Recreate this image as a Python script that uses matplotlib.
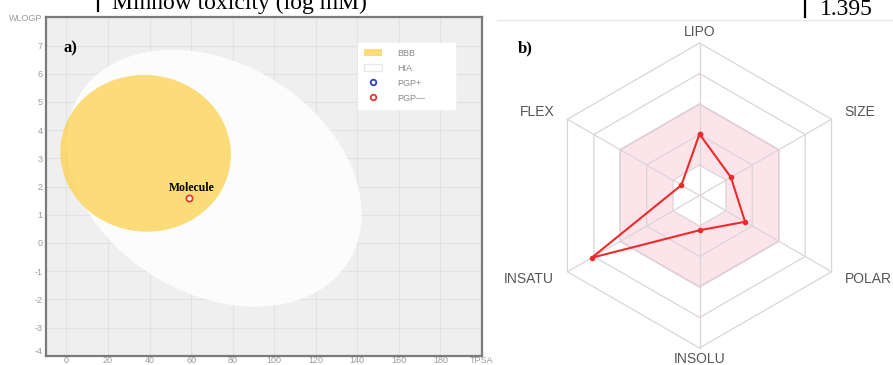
import numpy as np
import matplotlib.pyplot as plt
from matplotlib.patches import Patch
from matplotlib.lines import Line2D

plt.rcParams['font.family'] = ['Liberation Sans', 'DejaVu Sans']

# BOILED-Egg regions: centre (TPSA, WLOGP), full axis lengths, tilt in degrees
hia_center = (71.051, 2.292)
hia_axes = (142.081, 8.740)
hia_angle = -1.031325
bbb_center = (38.117, 3.177)
bbb_axes = (82.061, 5.557)
bbb_angle = -0.066989

mol_tpsa = [58.9]
mol_wlogp = [1.60]
mol_name = "Molecule"

x_ticks = [0, 20, 40, 60, 80, 100, 120, 140, 160, 180]
y_ticks = [-4, -3, -2, -1, 0, 1, 2, 3, 4, 5, 6, 7]

# bioavailability radar, values scaled to the outer ring
radar_names = ["LIPO", "SIZE", "POLAR", "INSOLU", "INSATU", "FLEX"]
radar_values = [0.403, 0.238, 0.345, 0.228, 0.817, 0.137]
optimal_range = (0.2, 0.6)
ring_levels = [0.2, 0.4, 0.6, 0.8, 1.0]

table_label = "Minnow toxicity (log mM)"
table_value = "1.395"

yellow = '#fbd24e'
W, H = 893, 365


def egg(center, axes, angle):
    t = np.linspace(0, 2 * np.pi, 361)
    a, b = axes[0] / 2, axes[1] / 2
    th = np.radians(angle)
    x = center[0] + a * np.cos(t) * np.cos(th) - b * np.sin(t) * np.sin(th)
    y = center[1] + a * np.cos(t) * np.sin(th) + b * np.sin(t) * np.cos(th)
    return x, y


fig = plt.figure(figsize=(W / 100, H / 100), dpi=100)

# strip of the table row above the panels
fig.text(112 / W, 1 - 9.3 / H, table_label, family='Liberation Serif',
         fontsize=17, va='baseline', ha='left')
fig.text(820 / W, 1 - 15 / H, table_value, family='Liberation Serif',
         fontsize=17, va='baseline', ha='left')
fig.add_artist(Line2D([98 / W, 98 / W], [1, 1 - 10.7 / H], color='black', lw=1.6))
fig.add_artist(Line2D([805 / W, 805 / W], [1, 1 - 16.7 / H], color='black', lw=1.6))
fig.add_artist(Line2D([497 / W, 1], [1 - 20 / H, 1 - 20 / H], color='#e6e6e6', lw=0.8))

# ---- a) BOILED-Egg ----
ax = fig.add_axes([45.6 / W, 9.3 / H, 436.4 / W, 338.4 / H])
ax.set_facecolor('#efefef')
ax.set_xlim(-10, 200)
ax.set_ylim(-4, 8)
ax.set_xticks(x_ticks + [200])
ax.set_xticklabels([str(v) for v in x_ticks] + ['TPSA'])
ax.set_yticks(y_ticks + [8])
ax.set_yticklabels([str(v) for v in y_ticks] + ['WLOGP'])
ax.grid(True, color='#e2e2e2', lw=0.8)
ax.set_axisbelow(True)
ax.tick_params(length=0, labelsize=6.5, colors='#9a9a9a')
ax.tick_params(axis='x', pad=0.4)
ax.tick_params(axis='y', pad=2)
ax.get_yticklabels()[0].set_va('bottom')
for s in ax.spines.values():
    s.set_color('#7a7a7a')
    s.set_linewidth(1.6)

hx, hy = egg(hia_center, hia_axes, hia_angle)
ax.fill(hx, hy, color='white', alpha=0.85, lw=0, zorder=2)
bx, by = egg(bbb_center, bbb_axes, bbb_angle)
ax.fill(bx, by, color=yellow, alpha=0.76, lw=0, zorder=3)

ax.plot(mol_tpsa, mol_wlogp, 'o', mfc='white', mec='#e03a2a', mew=1.3, ms=4.5, zorder=5)
ax.annotate(mol_name, (mol_tpsa[0], mol_wlogp[0]), xytext=(2.2, 5),
            textcoords='offset points', ha='center', va='baseline',
            family='Liberation Serif', fontweight='bold', fontsize=8.5, zorder=6)
ax.text(0.042, 0.909, 'a)', transform=ax.transAxes, family='Liberation Serif',
        fontweight='bold', fontsize=12, va='center', ha='left')

handles = [
    Patch(facecolor=yellow, alpha=0.76, edgecolor='none'),
    Patch(facecolor='white', edgecolor='#e8e8e8'),
    Line2D([], [], marker='o', ls='none', mfc='white', mec='#2a3fc9', mew=1.3, ms=4),
    Line2D([], [], marker='o', ls='none', mfc='white', mec='#e03a2a', mew=1.3, ms=4),
]
leg = ax.legend(handles, ['BBB', 'HIA', 'PGP+', 'PGP\u2014'],
                loc='upper left', bbox_to_anchor=(0.716, 0.725, 0.222, 0.2),
                mode='expand', borderaxespad=0, fontsize=6.5, labelcolor='#8a8a8a',
                frameon=True, fancybox=False, facecolor='white', edgecolor='white',
                framealpha=1, handlelength=2.0, handleheight=0.8, handletextpad=1.6,
                labelspacing=0.65, borderpad=0.7)
leg.set_zorder(7)

# ---- b) bioavailability radar ----
rx = fig.add_axes([500 / W, 0, 393 / W, 1])
rx.axis('off')
rx.set_xlim(-199.5 / 152.5, 193.5 / 152.5)
rx.set_ylim(-169.5 / 152.5, 195.5 / 152.5)

ang = np.radians(90 - 60 * np.arange(len(radar_names)))
ca = np.append(np.cos(ang), np.cos(ang[0]))
sa = np.append(np.sin(ang), np.sin(ang[0]))

rx.fill(optimal_range[1] * ca, optimal_range[1] * sa, color='#fbe4ea',
        ec='#e6b3c3', lw=1.0, zorder=1)
rx.fill(optimal_range[0] * ca, optimal_range[0] * sa, color='white', lw=0, zorder=1)
for r in ring_levels:
    rx.plot(r * ca, r * sa, color='#dcd5d8', lw=0.9, zorder=2)
for c, s in zip(np.cos(ang), np.sin(ang)):
    rx.plot([0, c], [0, s], color='#dcd5d8', lw=0.9, zorder=2)

vals = np.append(radar_values, radar_values[0])
rx.plot(vals * ca, vals * sa, color='#ee2a2a', lw=1.5, marker='o', ms=3, zorder=4)

for name, c, s in zip(radar_names, np.cos(ang), np.sin(ang)):
    if c > 0.1:
        ha = 'left'
    elif c < -0.1:
        ha = 'right'
    else:
        ha = 'center'
    ry = 1.07 * s if abs(s) > 0.9 else 1.09 * s
    rx.text(1.1 * c, ry, name, ha=ha, va='center', fontsize=10, color='#555555')

rx.text(-1.19, 0.967, 'b)', family='Liberation Serif', fontweight='bold',
        fontsize=12, va='center', ha='left')

fig.savefig('out.png', dpi=100)
